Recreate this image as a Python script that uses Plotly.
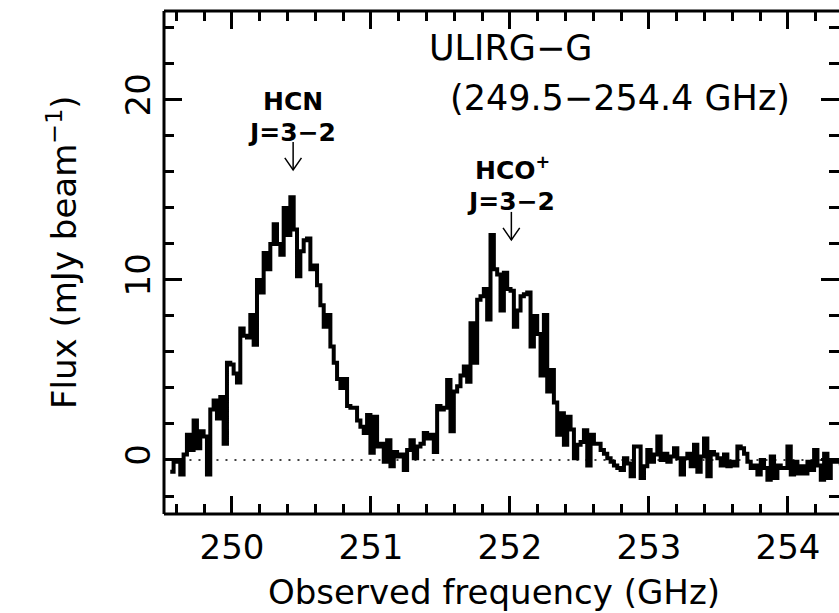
import numpy as np
import plotly.graph_objects as go

# ---- data ----
f_start = 249.556          # GHz, left edge of first channel
ch_width = 0.024           # GHz
flux = [
    -0.65, 0.0, -0.1, -0.8, 0.3, 1.4, 0.55, 2.2, 0.65, 1.6,
    1.3, -0.8, 2.8, 3.3, 2.3, 3.5, 0.9, 5.4, 5.3, 4.8,
    4.3, 7.3, 6.9, 6.8, 8.05, 6.4, 10.0, 9.3, 11.5, 10.6,
    12.0, 13.1, 12.0, 11.4, 14.0, 12.5, 14.6, 12.8, 10.2, 11.6,
    12.2, 12.3, 10.6, 10.8, 9.7, 8.6, 7.4, 8.05, 6.3, 5.4,
    4.5, 4.0, 4.5, 3.0, 2.9, 2.9, 2.2, 1.85, 1.5, 2.5,
    0.4, 2.4, 0.75, 0.9, -0.1, 1.1, -0.35, 0.45, 0.2, 0.3,
    -0.55, 0.55, 1.1, 0.1, 0.75, 0.9, 1.5, 1.2, 1.4, 0.45,
    3.0, 2.8, 2.9, 4.45, 1.6, 3.8, 4.1, 4.7, 5.2, 4.35,
    7.6, 5.4, 8.9, 9.1, 9.5, 7.8, 12.5, 10.6, 10.3, 8.3,
    10.4, 9.5, 9.4, 7.4, 8.3, 9.1, 9.2, 9.3, 6.3, 8.0,
    7.0, 4.7, 8.05, 3.8, 5.0, 3.2, 1.4, 2.6, 0.85, 2.4,
    1.7, 0.1, 0.85, 1.0, 1.65, -0.3, 1.4, 0.9, 0.9, 0.55,
    0.35, 0.1, -0.1, -0.3, -0.45, -0.55, 0.1, -0.2, -0.9, 0.75,
    0.75, -1.0, -0.35, 0.55, -0.1, 0.3, 1.3, 0.0, 0.35, -0.1,
    0.2, 0.65, 0.1, -0.8, 0.1, 0.35, -0.35, 0.85, -0.65, 0.2,
    1.2, -0.9, 0.45, 0.3, 0.1, -0.3, 0.3, -0.35, -0.1, -0.3,
    0.75, 0.65, 0.35, -0.1, -0.45, -0.3, -0.8, 0.0, -0.45, -1.1,
    0.2, -1.0, -0.3, -0.45, -0.45, 0.75, -0.8, -0.1, -0.75, -0.35,
    -0.75, -0.1, -0.55, 0.55, -0.3, -1.1, 0.35, -1.0, 0.0, -0.1,
    0.0, -0.2,
]
line_freqs = [250.44, 252.01]          # arrow positions (GHz)
line_names = ["HCN", "HCO<sup>+</sup>"]
line_trans = ["J=3\u22122", "J=3\u22122"]
x_tick0, x_dtick, x_minor = 250, 1, 0.2
y_tick0, y_dtick, y_minor = 0, 10, 2

FONT = "DejaVu Sans"

edges = f_start + ch_width * np.arange(len(flux) + 1)
yvals = flux + [flux[-1]]

fig = go.Figure()
fig.add_trace(go.Scatter(
    x=edges, y=yvals, mode="lines", line=dict(color="black", width=4, shape="hv"),
    showlegend=False, hoverinfo="skip"))

# zero level dotted line
fig.add_shape(type="line", xref="x", yref="y", x0=249.5, x1=254.4, y0=0, y1=0,
              line=dict(color="black", width=1.5, dash="2px,7px"), layer="below")

# arrows
shaft_top = [17.67, 13.78]
shaft_len = 1.56
head_len = 0.67
head_half = 0.06
for f, top in zip(line_freqs, shaft_top):
    tip = top - shaft_len
    fig.add_shape(type="line", xref="x", yref="y", x0=f, x1=f, y0=top, y1=tip,
                  line=dict(color="black", width=1.5))
    fig.add_shape(type="path", xref="x", yref="y",
                  path=f"M {f-head_half},{tip+head_len} L {f},{tip} L {f+head_half},{tip+head_len}",
                  line=dict(color="black", width=1.5))

# frame (left, top, bottom; right edge lies outside the cropped picture)
for (a0, b0, a1, b1) in [(0, 0, 0, 1), (0, 1, 1.01, 1), (0, 0, 1.01, 0)]:
    fig.add_shape(type="line", xref="paper", yref="paper", x0=a0, y0=b0, x1=a1, y1=b1,
                  line=dict(color="black", width=3))

x0 = 249.511
x1 = x0 + 675 / 139.0

common = dict(ticks="inside", ticklen=18, tickwidth=3, tickcolor="black",
              showline=False, mirror="allticks", showgrid=False, zeroline=False,
              tickmode="linear")

fig.update_layout(
    width=839, height=613,
    margin=dict(l=164, r=0, t=11, b=99),
    paper_bgcolor="white", plot_bgcolor="white",
    font=dict(family=FONT, color="black", size=34),
    xaxis=dict(range=[x0, x1], tick0=x_tick0, dtick=x_dtick,
               tickfont=dict(family=FONT, size=34), ticklabelstandoff=10,
               minor=dict(dtick=x_minor, tick0=x_tick0, ticks="inside", ticklen=10, tickwidth=3,
                          tickcolor="black", showgrid=False),
               **common),
    yaxis=dict(range=[-3.0, 24.94], tick0=y_tick0, dtick=y_dtick, tickangle=-90,
               tickfont=dict(family=FONT, size=34), ticklabelstandoff=6,
               minor=dict(dtick=y_minor, tick0=y_tick0, ticks="inside", ticklen=10, tickwidth=3,
                          tickcolor="black", showgrid=False),
               **common),
)

def px(X):
    return (X - 164) / 675.0

def py(Y):
    return (514 - Y) / 503.0

ann = [
    dict(text="Observed frequency (GHz)", x=px(494), y=py(592), size=34, angle=0, bold=False),
    dict(text="Flux (mJy beam<sup>\u22121</sup>)", x=px(62), y=py(252), size=34, angle=-90, bold=False),
    dict(text="ULIRG\u2212G", x=px(510), y=py(48), size=35, angle=0, bold=False),
    dict(text="(249.5\u2212254.4 GHz)", x=px(620), y=py(98), size=35, angle=0, bold=False),
    dict(text=line_names[0], x=px(292.5), y=py(102), size=25, angle=0, bold=True),
    dict(text=line_trans[0], x=px(292), y=py(132), size=25, angle=0, bold=True),
    dict(text=line_names[1], x=px(512), y=py(168), size=25, angle=0, bold=True),
    dict(text=line_trans[1], x=px(511), y=py(202), size=25, angle=0, bold=True),
]
for a in ann:
    fig.add_annotation(text=a["text"], x=a["x"], y=a["y"], xref="paper", yref="paper",
                       xanchor="center", yanchor="middle", showarrow=False,
                       textangle=a["angle"],
                       font=dict(family=FONT, size=a["size"], color="black",
                                 weight="bold" if a["bold"] else "normal"))

fig.write_html("out.html")
